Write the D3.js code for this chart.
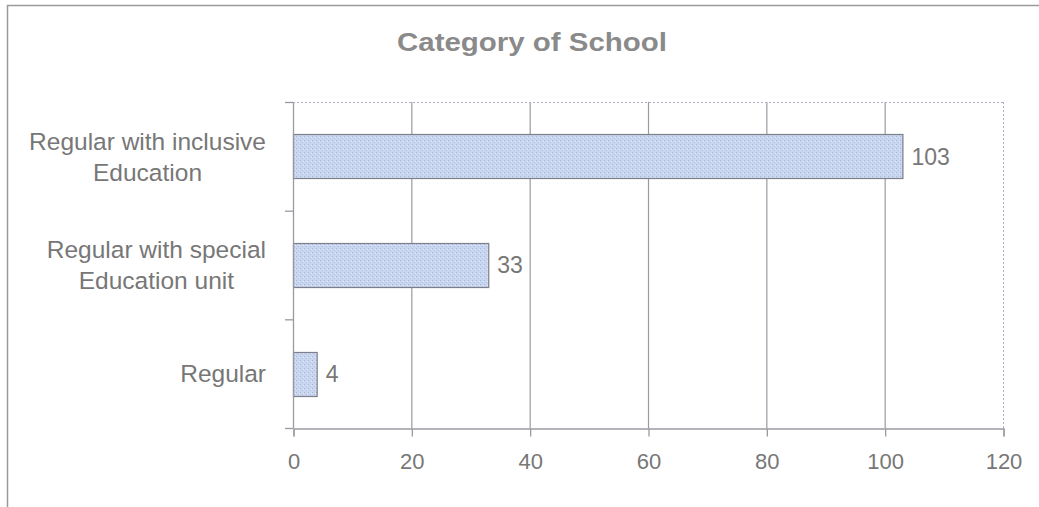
<!DOCTYPE html>
<html>
<head>
<meta charset="utf-8">
<script src="https://cdn.jsdelivr.net/npm/d3@7"></script>
<style>
  body { margin: 0; background: #fff; }
  svg { display: block; font-family: "Liberation Sans", Arial, sans-serif; }
</style>
</head>
<body>
<svg width="1039" height="507"></svg>
<script>
// data
var categories = [["Regular with inclusive", "Education"], ["Regular with special", "Education unit"], ["Regular"]];
var values = [103, 33, 4];
var xTicks = [0, 20, 40, 60, 80, 100, 120];
var title = "Category of School";

var svg = d3.select("svg");
var margin = { top: 102, right: 36, bottom: 79, left: 293 };
var width = +svg.attr("width"), height = +svg.attr("height");
var x0 = margin.left, x1 = width - margin.right, y0 = margin.top, y1 = height - margin.bottom;
var textCol = "#777777", gridCol = "#9a9aa2";

// outer frame (only top and left visible in the scan)
svg.append("rect").attr("x", 7.5).attr("y", 5.5).attr("width", 1100).attr("height", 600)
  .attr("fill", "none").attr("stroke", "#9a9a9a").attr("stroke-width", 1.5);

// stipple texture for the bars
var defs = svg.append("defs");
var pat = defs.append("pattern").attr("id", "stip").attr("patternUnits", "userSpaceOnUse")
  .attr("width", 4).attr("height", 4);
pat.append("rect").attr("width", 4).attr("height", 4).attr("fill", "#c9d6f0");
pat.append("rect").attr("x", 0).attr("y", 0).attr("width", 1).attr("height", 1).attr("fill", "#a6b6d8");
pat.append("rect").attr("x", 2).attr("y", 2).attr("width", 1).attr("height", 1).attr("fill", "#b2c1e0");
pat.append("rect").attr("x", 3).attr("y", 1).attr("width", 1).attr("height", 1).attr("fill", "#e2eaf8");

var xScale = d3.scaleLinear().domain([0, 120]).range([x0, x1]);
var yScale = d3.scaleBand().domain(d3.range(categories.length)).range([y0, y1])
  .paddingInner(0.595).paddingOuter(0.2975);

// title
svg.append("text").attr("x", 532).attr("y", 51).attr("text-anchor", "middle")
  .attr("font-size", "26px").attr("font-weight", "bold").attr("fill", "#8a8a8a")
  .attr("textLength", 270).attr("lengthAdjust", "spacingAndGlyphs").text(title);

// gridlines
svg.append("g").selectAll("line").data(xTicks.filter(d => d > 0 && d < 120)).join("line")
  .attr("x1", d => xScale(d) + 0.5).attr("x2", d => xScale(d) + 0.5)
  .attr("y1", y0).attr("y2", y1).attr("stroke", gridCol).attr("stroke-width", 1.2);

// dotted top and right edges of the plot area
svg.append("line").attr("x1", x0).attr("x2", x1).attr("y1", y0 + 0.5).attr("y2", y0 + 0.5)
  .attr("stroke", "#a8b0c8").attr("stroke-dasharray", "2,2");
svg.append("line").attr("x1", x1 + 0.5).attr("x2", x1 + 0.5).attr("y1", y0).attr("y2", y1)
  .attr("stroke", "#a8b0c8").attr("stroke-dasharray", "2,2");

// bars
svg.append("g").selectAll("rect").data(values).join("rect")
  .attr("x", xScale(0) + 0.5).attr("y", (d, i) => Math.round(yScale(i)) + 0.5)
  .attr("width", d => xScale(d) - xScale(0)).attr("height", yScale.bandwidth())
  .attr("fill", "url(#stip)").attr("stroke", "#7d7f8a").attr("stroke-width", 1.2);

// value labels
svg.append("g").selectAll("text").data(values).join("text")
  .attr("x", d => xScale(d) + 9).attr("y", (d, i) => yScale(i) + yScale.bandwidth() / 2)
  .attr("dy", "0.36em").attr("font-size", "23px").attr("fill", textCol).text(d => d);

// y axis line and ticks at band boundaries
svg.append("line").attr("x1", x0 + 0.5).attr("x2", x0 + 0.5).attr("y1", y0).attr("y2", y1)
  .attr("stroke", gridCol).attr("stroke-width", 1.3);
var step = yScale.step();
svg.append("g").selectAll("line").data(d3.range(categories.length + 1)).join("line")
  .attr("x1", x0 - 8).attr("x2", x0).attr("y1", d => y0 + d * step + 0.5).attr("y2", d => y0 + d * step + 0.5)
  .attr("stroke", gridCol).attr("stroke-width", 1.3);

// x axis
var xAxis = d3.axisBottom(xScale).tickValues(xTicks).tickSize(8).tickPadding(17);
var xAxisG = svg.append("g").attr("transform", `translate(0.5,${y1 + 0.5})`).call(xAxis);
xAxisG.select(".domain").attr("stroke", gridCol).attr("stroke-width", 1.3);
xAxisG.selectAll(".tick line").attr("stroke", gridCol).attr("stroke-width", 1.3);
xAxisG.selectAll(".tick text").attr("font-size", "22px").attr("fill", textCol)
  .attr("font-family", "Liberation Sans, Arial, sans-serif");

// category labels: block right-aligned, lines centered inside block
var labelRight = 266, lineH = 31;
categories.forEach(function (lines, i) {
  var cy = yScale(i) + yScale.bandwidth() / 2;
  var g = svg.append("g");
  var texts = lines.map(function (line, j) {
    return g.append("text").attr("font-size", "24.5px").attr("fill", textCol)
      .attr("text-anchor", "middle").attr("dy", "0.36em")
      .attr("y", cy + (j - (lines.length - 1) / 2) * lineH).text(line);
  });
  var w = d3.max(texts, t => t.node().getComputedTextLength());
  texts.forEach(t => t.attr("x", labelRight - w / 2));
});
</script>
</body>
</html>
